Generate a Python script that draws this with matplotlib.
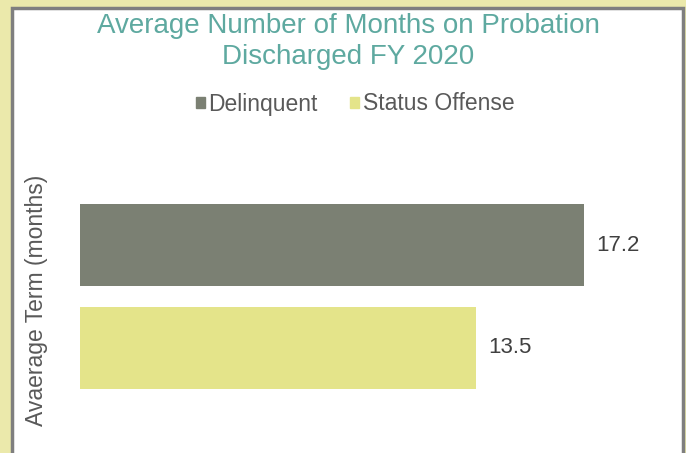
import matplotlib.pyplot as plt
from matplotlib.patches import Rectangle

categories = ['Delinquent', 'Status Offense']
values = [17.2, 13.5]
colors = ['#7b8073', '#e4e48a']

W, H = 686, 453
fig = plt.figure(figsize=(W / 100, H / 100), dpi=100, facecolor='#ebe9ab')
plt.rcParams['font.family'] = ['Liberation Sans', 'DejaVu Sans']

# gray framed white panel
fig.patches.append(Rectangle((11.5 / W, -0.1), (683 - 11.5) / W, (H - 8.5) / H + 0.1,
                             transform=fig.transFigure, facecolor='white',
                             edgecolor='#7f7f7f', linewidth=2.5, zorder=-5))

# axes: x=0 at px 80, 29.3 px per month; rows 102.5 px apart
x0, ppu = 80, 29.3
xmax = 20
top, row = 194, 102.5
ax = fig.add_axes([x0 / W, 1 - (top + 2 * row) / H, xmax * ppu / W, 2 * row / H])
ax.set_facecolor('none')
ax.set_zorder(2)
ypos = list(range(len(categories)))
ax.barh(ypos, values, height=0.8, color=colors, label=categories)
ax.set_xlim(0, xmax)
ax.set_ylim(1.5, -0.5)
for y, v in zip(ypos, values):
    ax.annotate(f'{v:.1f}', (v, y), xytext=(9, 0), textcoords='offset points',
                va='center', ha='left', fontsize=16, color='#404040')
ax.axis('off')

fig.text(348 / W, 1 - 26 / H, 'Average Number of Months on Probation',
         ha='center', va='center', fontsize=20, color='#5ea9a0')
fig.text(348 / W, 1 - 57 / H, 'Discharged FY 2020',
         ha='center', va='center', fontsize=20, color='#5ea9a0')
fig.text(37 / W, 1 - 300 / H, 'Avaerage Term (months)', rotation=90,
         ha='center', va='center', fontsize=16.5, color='#595959')

handles = [Rectangle((0, 0), 1, 1, color=c) for c in colors]
fig.legend(handles, categories, loc='center', bbox_to_anchor=(355 / W, 1 - 104 / H),
           ncol=2, frameon=False, fontsize=16.5, handlelength=0.4, handleheight=0.4,
           handletextpad=0.15, columnspacing=1.4, labelcolor='#595959')

fig.savefig('out.png', dpi=100, facecolor=fig.get_facecolor())
